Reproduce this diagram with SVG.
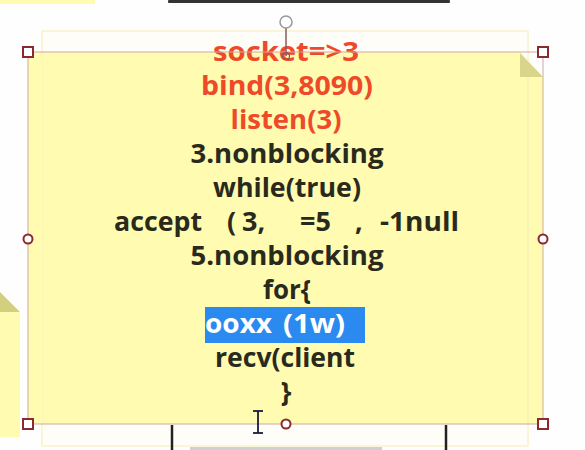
<svg xmlns="http://www.w3.org/2000/svg" width="585" height="450" viewBox="0 0 585 450">
<style>
.t{font-family:"Open Sans","Noto Sans CJK SC",sans-serif;font-weight:bold;font-size:27px;text-anchor:middle}
.r{fill:#ee4a2a}
.k{fill:#2a2a1c}
.s{fill:none;stroke:#cfa8a0;stroke-width:1}
.h{fill:#ffffff;stroke:#8a2a30;stroke-width:2}
</style>
<rect x="0" y="0" width="585" height="450" fill="#fefefe"/>
<g id="background">
  <rect x="0" y="0" width="95" height="4" fill="#fffbb0"/>
  <rect x="168" y="0" width="282" height="3" rx="1" fill="#333333"/>
  <g id="left-note">
    <polygon points="0,312 20,312 20,437 0,437" fill="#fffbb0"/>
    <polygon points="0,292 20,312 0,312" fill="#d2cf7e"/>
  </g>
  <rect x="42" y="31" width="486" height="415" fill="#fefdf8" stroke="#f9f4c8" stroke-width="1.5"/>
  <line x1="172" y1="425" x2="172" y2="450" stroke="#222" stroke-width="2.5"/>
  <line x1="446" y1="425" x2="446" y2="450" stroke="#222" stroke-width="2.5"/>
  <rect x="190" y="447" width="192" height="3" fill="#d0d0d0"/>
</g>
<g id="note">
  <polygon points="28,52 520,52 543,77 543,424 28,424" fill="#fffbb0"/>
  <polygon points="520,53 520,77 543,77" fill="#d9d68c"/>
  <line x1="43" y1="52" x2="43" y2="424" stroke="#fff7b8" stroke-width="2"/>
  <line x1="528" y1="77" x2="528" y2="424" stroke="#f8f2b4" stroke-width="2"/>
  <rect x="205" y="307" width="160" height="36" fill="#2a8af0"/>
  <text class="t r" x="286" y="61" textLength="146" lengthAdjust="spacingAndGlyphs">socket=&gt;3</text>
  <text class="t r" x="287" y="95" textLength="172" lengthAdjust="spacingAndGlyphs">bind(3,8090)</text>
  <text class="t r" x="286" y="129" textLength="111" lengthAdjust="spacingAndGlyphs">listen(3)</text>
  <text class="t k" x="287" y="163" textLength="193" lengthAdjust="spacingAndGlyphs">3.nonblocking</text>
  <text class="t k" x="287" y="197" textLength="148" lengthAdjust="spacingAndGlyphs">while(true)</text>
  <text class="t k" y="231" style="text-anchor:start"><tspan x="114" textLength="88" lengthAdjust="spacingAndGlyphs">accept</tspan><tspan x="227">(</tspan><tspan x="242">3,</tspan><tspan x="300">=5</tspan><tspan x="355">,</tspan><tspan x="380" textLength="79" lengthAdjust="spacingAndGlyphs">-1null</tspan></text>
  <text class="t k" x="287" y="265" textLength="193" lengthAdjust="spacingAndGlyphs">5.nonblocking</text>
  <text class="t k" x="287" y="299" textLength="48" lengthAdjust="spacingAndGlyphs">for{</text>
  <text class="t" y="333" fill="#ffffff" style="text-anchor:start"><tspan x="205" textLength="67" lengthAdjust="spacingAndGlyphs">ooxx</tspan><tspan x="283" textLength="62" lengthAdjust="spacingAndGlyphs">(1w)</tspan></text>
  <text class="t k" x="285" y="367" textLength="140" lengthAdjust="spacingAndGlyphs">recv(client</text>
  <text class="t k" x="286" y="401">}</text>
</g>
<g id="selection">
  <rect class="s" x="28" y="52" width="515" height="372"/>
  <line x1="286" y1="28" x2="286" y2="56" stroke="#8a5a5a" stroke-width="1.5"/>
  <circle cx="286" cy="22" r="6" fill="#ffffff" stroke="#999" stroke-width="1.5"/>
  <circle cx="286" cy="56" r="3.5" fill="none" stroke="#8a5a5a" stroke-width="1.2"/>
  <rect class="h" x="23" y="47" width="10" height="10"/>
  <rect class="h" x="538" y="47" width="10" height="10"/>
  <rect class="h" x="23" y="419" width="10" height="10"/>
  <rect class="h" x="538" y="419" width="10" height="10"/>
  <circle class="h" cx="28" cy="239" r="4.5" stroke-width="1.5"/>
  <circle class="h" cx="543" cy="239" r="4.5" stroke-width="1.5"/>
  <circle class="h" cx="286" cy="424" r="4.5" stroke-width="1.5"/>
</g>
<g id="cursor" stroke="#1a1a40" stroke-width="1.8" fill="none">
  <line x1="258" y1="411" x2="258" y2="433"/>
  <line x1="253" y1="411" x2="263" y2="411"/>
  <line x1="253" y1="433" x2="263" y2="433"/>
</g>
</svg>
